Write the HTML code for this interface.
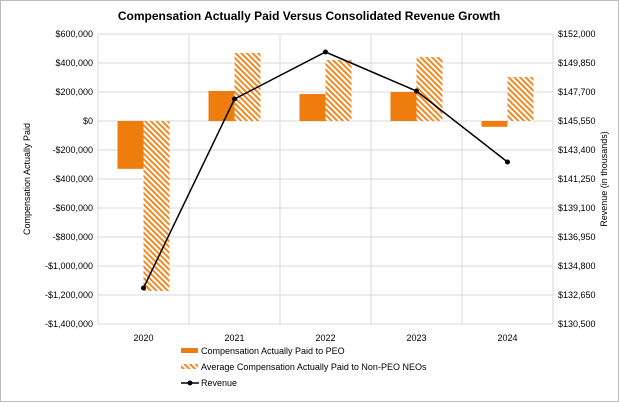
<!DOCTYPE html>
<html><head><meta charset="utf-8"><style>
body{margin:0;background:#fff;font-family:"Liberation Sans",Arial,sans-serif}
svg text{font-family:"Liberation Sans",Arial,sans-serif}
</style></head><body>
<svg id="c" width="619" height="402" xmlns="http://www.w3.org/2000/svg">
<defs><pattern id="hatch" patternUnits="userSpaceOnUse" width="4" height="4" patternTransform="rotate(-45)">
<rect width="4" height="4" fill="#fff"/><rect width="2" height="4" fill="#F08A24"/></pattern></defs>
<rect x="0.5" y="0.5" width="618" height="401" fill="#fff" stroke="#bbb"/>
<text x="309" y="20" text-anchor="middle" font-size="12" font-weight="bold">Compensation Actually Paid Versus Consolidated Revenue Growth</text>
<g id="g"></g>
</svg>
<script>
const categories=["2020","2021","2022","2023","2024"];
const peoValues=[-330000,207000,186000,200000,-40000];
const neoValues=[-1172000,469000,421000,441000,303000];
const revenueValues=[133170,147180,150665,147770,142510];
const leftTicks=[600000,400000,200000,0,-200000,-400000,-600000,-800000,-1000000,-1200000,-1400000];
const rightTicks=[152000,149850,147700,145550,143400,141250,139100,136950,134800,132650,130500];
const NS="http://www.w3.org/2000/svg";
const g=document.getElementById('g');
const L=98,R=553,T=34,B=324;
const yL=v=>T+(600000-v)/2000000*(B-T);
const yR=v=>T+(152000-v)/21500*(B-T);
const cw=(R-L)/categories.length;
const xc=i=>L+cw*(i+0.5);
function el(t,a,txt){const e=document.createElementNS(NS,t);for(const k in a)e.setAttribute(k,a[k]);if(txt!==undefined)e.textContent=txt;g.appendChild(e);return e;}
const fmt=v=>(v<0?"-$":"$")+Math.abs(v).toLocaleString('en-US');
leftTicks.forEach(v=>{
 const l=el('line',{x1:L,x2:R,y1:yL(v),y2:yL(v),stroke:'#d9d9d9','stroke-width':1});
 
 
 const t=el('text',{x:L-5,y:yL(v)+3,'text-anchor':'end','font-size':9},fmt(v));
 
 
});
for(let i=0;i<=categories.length;i++){
 const l=el('line',{x1:L+cw*i,x2:L+cw*i,y1:T,y2:B,stroke:'#d9d9d9','stroke-width':1});
 
 
}
rightTicks.forEach(v=>{
 const t=el('text',{x:R+5,y:yR(v)+3,'font-size':9},"$"+v.toLocaleString('en-US'));
 
 
});
const bw=26;
categories.forEach((c,i)=>{
 const x=xc(i);
 const p=peoValues[i];
 const r1=el('rect',{x:x-bw,y:Math.min(yL(p),yL(0)),width:bw,height:Math.abs(yL(p)-yL(0)),fill:'#EE7D0D'});
 
 
 const n=neoValues[i];
 const r2=el('rect',{x:x,y:Math.min(yL(n),yL(0)),width:bw,height:Math.abs(yL(n)-yL(0)),fill:'url(#hatch)'});
 
 
 const t=el('text',{x:x,y:B+17,'text-anchor':'middle','font-size':9},c);
 
 
});
const line=el('polyline',{points:revenueValues.map((v,i)=>xc(i)+','+yR(v)).join(' '),fill:'none',stroke:'#000','stroke-width':1.5});


revenueValues.forEach((v,i)=>{
 const d=el('circle',{cx:xc(i),cy:yR(v),r:2.5,fill:'#000'});
 
 
});
const yt=el('text',{transform:'translate(30,179) rotate(-90)','text-anchor':'middle','font-size':9},'Compensation Actually Paid');


const yt2=el('text',{transform:'translate(607,179) rotate(-90)','text-anchor':'middle','font-size':9},'Revenue (in thousands)');


const lg=[['Compensation Actually Paid to PEO','peo'],['Average Compensation Actually Paid to Non-PEO NEOs','neo'],['Revenue','rev']];
lg.forEach((e,i)=>{
 const y=351+i*16;
 if(e[1]==='peo'){const s=el('rect',{x:181,y:y-3,width:17,height:5,fill:'#EE7D0D'});}
 else if(e[1]==='neo'){const s=el('rect',{x:181,y:y-3,width:17,height:5,fill:'url(#hatch)'});}
 else{const s=el('line',{x1:181,x2:199,y1:y,y2:y,stroke:'#000','stroke-width':1.5});
 const d=el('circle',{cx:190,cy:y,r:2.5,fill:'#000'});}
 const t=el('text',{x:201,y:y+3,'font-size':9},e[0]);
 
 
});
</script>
</body></html>
